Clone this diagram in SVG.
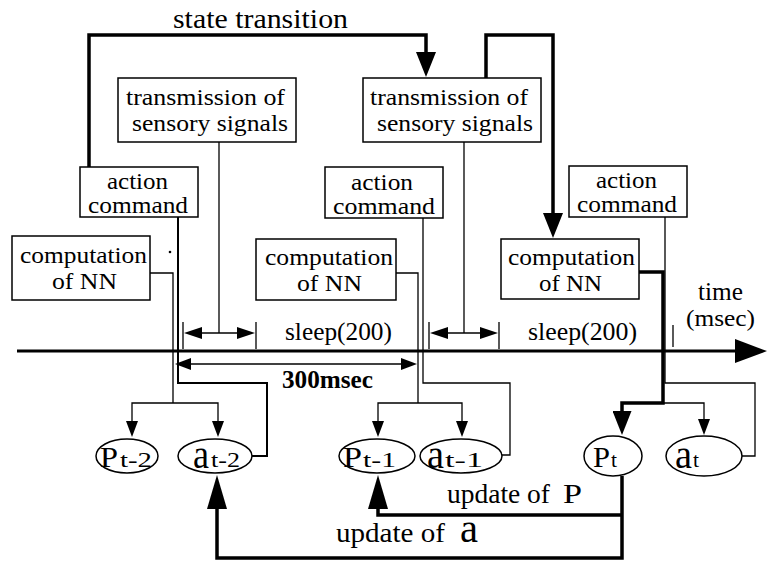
<svg xmlns="http://www.w3.org/2000/svg" width="774" height="562" viewBox="0 0 774 562">
<style>
text{font-family:"Liberation Serif","Times New Roman",serif;fill:#000}
.t{font-size:24px}
.b{font-size:25px}
.box{fill:#fff;stroke:#000;stroke-width:1.5}
.ell{fill:#fff;stroke:#000;stroke-width:1.5}
.thin{fill:none;stroke:#000;stroke-width:1.3}
.mid{fill:none;stroke:#000;stroke-width:2}
.thick{fill:none;stroke:#000;stroke-width:3.5}
.axis{fill:none;stroke:#000;stroke-width:3}
</style>
<defs>
<marker id="ahS" markerUnits="userSpaceOnUse" viewBox="0 0 16 12" markerWidth="16" markerHeight="12" refX="1" refY="6" orient="auto-start-reverse"><path d="M0,0L16,6L0,12z"/></marker>
<marker id="ahD" markerUnits="userSpaceOnUse" viewBox="0 0 18 12" markerWidth="18" markerHeight="12" refX="1" refY="6" orient="auto-start-reverse"><path d="M0,0L18,6L0,12z"/></marker>
<marker id="ahL" markerUnits="userSpaceOnUse" viewBox="0 0 25 20" markerWidth="25" markerHeight="20" refX="1" refY="10" orient="auto"><path d="M0,0L25,10L0,20z"/></marker>
<marker id="ahT" markerUnits="userSpaceOnUse" viewBox="0 0 32 24" markerWidth="32" markerHeight="24" refX="1" refY="12" orient="auto"><path d="M0,0L32,12L0,24z"/></marker>
<marker id="ahU" markerUnits="userSpaceOnUse" viewBox="0 0 34 20" markerWidth="34" markerHeight="20" refX="1" refY="10" orient="auto"><path d="M0,0L34,10L0,20z"/></marker>
<marker id="ahP" markerUnits="userSpaceOnUse" viewBox="0 0 24 19" markerWidth="24" markerHeight="19" refX="1" refY="9.5" orient="auto"><path d="M0,0L24,9.5L0,19z"/></marker>
</defs>

<g id="connectors">
  <path class="axis" d="M17,351H736" marker-end="url(#ahT)"/>
  <path class="thick" d="M89,167V35H426V53" marker-end="url(#ahL)"/>
  <path class="thick" d="M486,78V35H553V214" marker-end="url(#ahL)"/>
  <path class="thin" d="M219,142V333"/>
  <path class="thin" d="M183,322V349M256,322V349"/>
  <path class="thin" d="M201,333H238" marker-start="url(#ahD)" marker-end="url(#ahD)"/>
  <path class="thin" d="M464,142V333"/>
  <path class="thin" d="M429,322V349M499,322V349"/>
  <path class="thin" d="M447,333H481" marker-start="url(#ahD)" marker-end="url(#ahD)"/>
  <path class="thin" d="M673,325V347"/>
  <path class="thin" d="M190,364H402" marker-start="url(#ahS)" marker-end="url(#ahS)"/>
  <path class="thin" d="M150,273H173V403"/>
  <path class="thin" d="M173,403H132V422" marker-end="url(#ahS)"/>
  <path class="thin" d="M173,403H218V422" marker-end="url(#ahS)"/>
  <path class="mid" d="M178,217V383H267V456H252"/>
  <path class="thin" d="M396,273H418V403"/>
  <path class="thin" d="M418,403H378V422" marker-end="url(#ahS)"/>
  <path class="thin" d="M418,403H462V422" marker-end="url(#ahS)"/>
  <path class="thin" d="M423,218V383H510V455H502"/>
  <path class="thin" d="M665,217V383H755V456H742"/>
  <path class="thick" d="M639,272H663V403H622V412" marker-end="url(#ahP)"/>
  <path class="thin" d="M663,403H704V420" marker-end="url(#ahS)"/>
  <path class="thick" d="M622,476V558H217V508" marker-end="url(#ahU)"/>
  <path class="thick" d="M622,515H378V508" marker-end="url(#ahU)"/>
  <circle cx="170" cy="252" r="1.3" fill="#000"/>
</g>

<g id="state-transition-label"><text x="173" y="28" font-size="28" textLength="175" lengthAdjust="spacingAndGlyphs">state transition</text></g>

<g id="trans1"><rect class="box" x="118" y="78" width="178" height="64"/>
<text class="t" x="126" y="105" textLength="159" lengthAdjust="spacingAndGlyphs">transmission of</text>
<text class="t" x="132" y="131" textLength="156" lengthAdjust="spacingAndGlyphs">sensory signals</text></g>
<g id="trans2"><rect class="box" x="363" y="78" width="178" height="64"/>
<text class="t" x="370" y="105" textLength="158" lengthAdjust="spacingAndGlyphs">transmission of</text>
<text class="t" x="377" y="131" textLength="156" lengthAdjust="spacingAndGlyphs">sensory signals</text></g>

<g id="action1"><rect class="box" x="80" y="167" width="118" height="50"/>
<text class="t" x="107" y="189" textLength="61" lengthAdjust="spacingAndGlyphs">action</text>
<text class="t" x="88" y="213" textLength="100" lengthAdjust="spacingAndGlyphs">command</text></g>
<g id="action2"><rect class="box" x="325" y="167" width="118" height="51"/>
<text class="t" x="351" y="190" textLength="62" lengthAdjust="spacingAndGlyphs">action</text>
<text class="t" x="333" y="214" textLength="102" lengthAdjust="spacingAndGlyphs">command</text></g>
<g id="action3"><rect class="box" x="569" y="166" width="118" height="51"/>
<text class="t" x="596" y="188" textLength="61" lengthAdjust="spacingAndGlyphs">action</text>
<text class="t" x="577" y="212" textLength="100" lengthAdjust="spacingAndGlyphs">command</text></g>

<g id="comp1"><rect class="box" x="12" y="236" width="138" height="64"/>
<text class="t" x="20" y="263" textLength="127" lengthAdjust="spacingAndGlyphs">computation</text>
<text class="t" x="52" y="289" textLength="65" lengthAdjust="spacingAndGlyphs">of NN</text></g>
<g id="comp2"><rect class="box" x="256" y="239" width="140" height="61"/>
<text class="t" x="265" y="265" textLength="128" lengthAdjust="spacingAndGlyphs">computation</text>
<text class="t" x="297" y="291" textLength="65" lengthAdjust="spacingAndGlyphs">of NN</text></g>
<g id="comp3"><rect class="box" x="501" y="239" width="138" height="60"/>
<text class="t" x="508" y="265" textLength="127" lengthAdjust="spacingAndGlyphs">computation</text>
<text class="t" x="539" y="291" textLength="63" lengthAdjust="spacingAndGlyphs">of NN</text></g>

<g id="labels">
<text class="b" x="285" y="340" textLength="107" lengthAdjust="spacingAndGlyphs">sleep(200)</text>
<text class="b" x="528" y="340" textLength="109" lengthAdjust="spacingAndGlyphs">sleep(200)</text>
<text class="b" x="282" y="388" font-weight="bold" textLength="91" lengthAdjust="spacingAndGlyphs">300msec</text>
<text class="b" x="698" y="300" textLength="45" lengthAdjust="spacingAndGlyphs">time</text>
<text class="t" x="686" y="326" textLength="69" lengthAdjust="spacingAndGlyphs">(msec)</text>
<text x="447" y="503" font-size="27" textLength="103" lengthAdjust="spacingAndGlyphs">update of</text>
<text x="563" y="503" font-size="28" textLength="19" lengthAdjust="spacingAndGlyphs">P</text>
<text x="336" y="542" font-size="28" textLength="109" lengthAdjust="spacingAndGlyphs">update of</text>
<text x="460" y="542" font-size="42" textLength="18" lengthAdjust="spacingAndGlyphs">a</text>
</g>

<g id="P_t-2"><ellipse class="ell" cx="127" cy="456" rx="31" ry="17"/>
<text x="100" y="467" font-size="29" textLength="18" lengthAdjust="spacingAndGlyphs">P</text>
<text x="120" y="467" font-size="22" textLength="32" lengthAdjust="spacingAndGlyphs">t-2</text></g>
<g id="a_t-2"><ellipse class="ell" cx="215" cy="456" rx="37" ry="17"/>
<text x="193" y="468" font-size="40" textLength="16" lengthAdjust="spacingAndGlyphs">a</text>
<text x="211" y="467" font-size="22" textLength="29" lengthAdjust="spacingAndGlyphs">t-2</text></g>
<g id="P_t-1"><ellipse class="ell" cx="377" cy="456" rx="38" ry="17"/>
<text x="343" y="467" font-size="29" textLength="19" lengthAdjust="spacingAndGlyphs">P</text>
<text x="363" y="467" font-size="22" textLength="33" lengthAdjust="spacingAndGlyphs">t-1</text></g>
<g id="a_t-1"><ellipse class="ell" cx="461" cy="456" rx="41" ry="17"/>
<text x="427" y="468" font-size="40" textLength="17" lengthAdjust="spacingAndGlyphs">a</text>
<text x="445" y="467" font-size="22" textLength="38" lengthAdjust="spacingAndGlyphs">t-1</text></g>
<g id="P_t"><ellipse class="ell" cx="613" cy="456" rx="29" ry="20"/>
<text x="593" y="467" font-size="29" textLength="17" lengthAdjust="spacingAndGlyphs">P</text>
<text x="611" y="467" font-size="22" textLength="6" lengthAdjust="spacingAndGlyphs">t</text></g>
<g id="a_t"><ellipse class="ell" cx="704" cy="456" rx="38" ry="20"/>
<text x="675" y="468" font-size="40" textLength="17" lengthAdjust="spacingAndGlyphs">a</text>
<text x="693" y="467" font-size="22" textLength="6" lengthAdjust="spacingAndGlyphs">t</text></g>
</svg>
